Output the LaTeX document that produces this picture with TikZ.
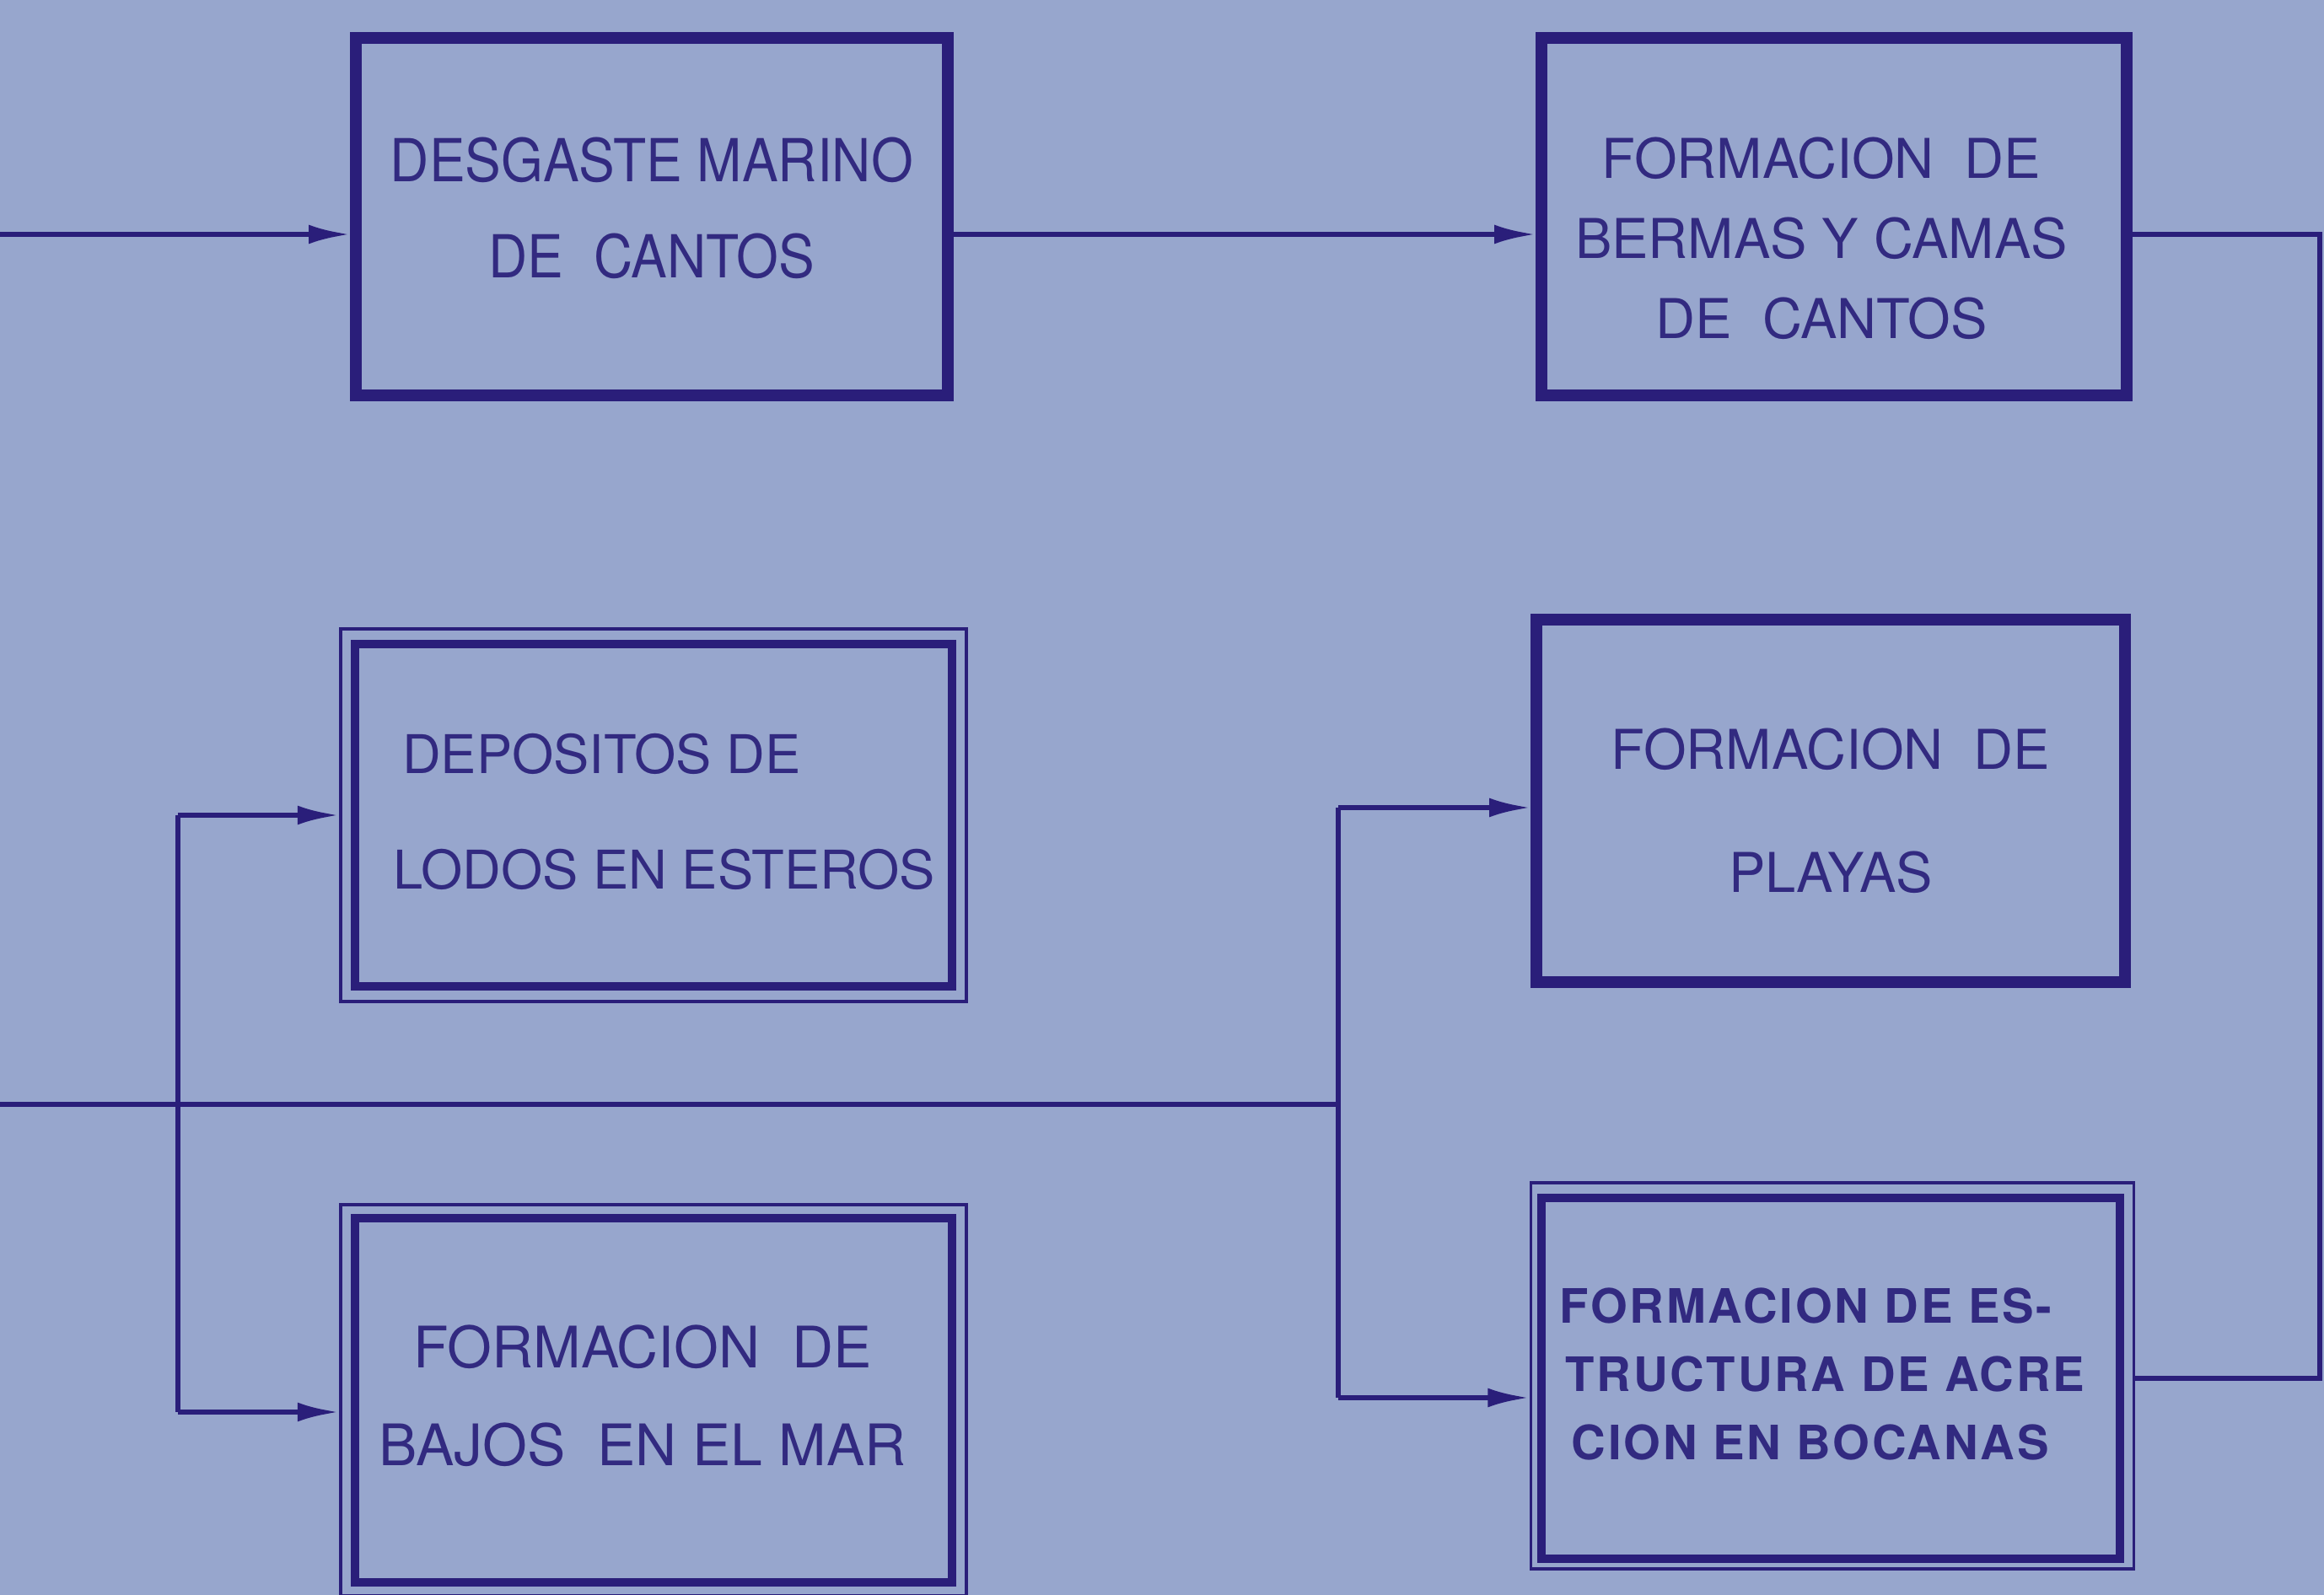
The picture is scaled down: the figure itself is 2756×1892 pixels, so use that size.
\documentclass[tikz,border=0pt]{standalone}
\usepackage{fontspec}
\setmainfont{TeX Gyre Heros}
\newfontfamily\narrowfont[FakeStretch=0.91]{TeX Gyre Heros}
\newfontfamily\widefont[LetterSpace=5]{TeX Gyre Heros}
\usetikzlibrary{arrows.meta}
\definecolor{paper}{RGB}{151,166,205}
\definecolor{ink}{RGB}{42,30,122}
\definecolor{textink}{RGB}{50,42,128}
\begin{document}
\begin{tikzpicture}[x=0.01cm,y=-0.01cm,
  thickbox/.style={draw=ink,line width=4pt,inner sep=0pt},
  innerbox/.style={draw=ink,line width=2.8pt,inner sep=0pt},
  thinbox/.style={draw=ink,line width=1pt,inner sep=0pt},
  label/.style={text=textink,inner sep=0pt},
  conn/.style={draw=ink,line width=1.7pt},
  arr/.style={conn,-{Latex[length=14pt,width=6.5pt]}}]
\fill[paper] (0,0) rectangle (2756,1892);
\useasboundingbox (0,0) rectangle (2756,1892);
% boxes
\node[thickbox,minimum width=7.01cm,minimum height=4.24cm] (b1) at (773,257) {};
\node[thickbox,minimum width=6.93cm,minimum height=4.24cm] (b2) at (2175,257) {};
\node[thinbox,minimum width=7.42cm,minimum height=4.42cm] (b3o) at (775,967) {};
\node[innerbox,minimum width=7.08cm,minimum height=4.06cm] (b3) at (775,967) {};
\node[thickbox,minimum width=6.97cm,minimum height=4.30cm] (b4) at (2171,950) {};
\node[thinbox,minimum width=7.42cm,minimum height=4.64cm] (b5o) at (775,1661) {};
\node[innerbox,minimum width=7.08cm,minimum height=4.31cm] (b5) at (775,1661) {};
\node[thinbox,minimum width=7.15cm,minimum height=4.58cm] (b6o) at (2173,1632) {};
\node[innerbox,minimum width=6.86cm,minimum height=4.27cm] (b6) at (2171,1635) {};
% texts
\node[label,align=center,font={\narrowfont\fontsize{20}{32.4}\selectfont}] (t1) at (773,247) {DESGASTE MARINO\\DE\ \ CANTOS};
\node[label,align=center,font={\fontsize{18.5}{27}\selectfont}] (t2) at (2160,283) {FORMACION\ \ DE\\BERMAS Y CAMAS\\DE\ \ CANTOS};
\node[label,align=left,anchor=west,font={\fontsize{18}{39}\selectfont}] (t3) at (466,963) {\hspace{3pt}DEPOSITOS DE\\LODOS EN ESTEROS};
\node[label,align=center,font={\fontsize{18.5}{41.5}\selectfont}] (t4) at (2171,962) {FORMACION\ \ DE\\PLAYAS};
\node[label,align=center,font={\fontsize{19.3}{33}\selectfont}] (t5) at (762,1656) {FORMACION\ \ DE\\BAJOS\ \ EN EL MAR};
\node[label,align=left,anchor=west,font={\widefont\bfseries\fontsize{16}{23}\selectfont}] (t6) at (1849,1630) {FORMACION DE ES-\\\hspace{2pt}TRUCTURA DE ACRE\\\hspace{4pt}CION EN BOCANAS};
% connector points
\coordinate (c0) at (0,278);
\coordinate (rR) at (2751,278);
\coordinate (rB) at (2751,1635);
\coordinate (m0) at (0,1310);
\coordinate (mJ) at (1587,1310);
\coordinate (lT) at (211,967);
\coordinate (lB) at (211,1675);
\coordinate (rT) at (1587,958);
\coordinate (rD) at (1587,1658);
% connectors
\draw[arr] (c0) -- (c0 -| b1.west);
\draw[arr] (c0 -| b1.east) -- (c0 -| b2.west);
\draw[conn] (c0 -| b2.east) -- (rR) -- (rB) -- (rB -| b6o.east);
\draw[conn] (m0) -- (mJ);
\draw[arr] (lT) -- (lT -| b3o.west);
\draw[conn] (lT) -- (lB);
\draw[arr] (lB) -- (lB -| b5o.west);
\draw[arr] (rT) -- (rT -| b4.west);
\draw[conn] (rT) -- (rD);
\draw[arr] (rD) -- (rD -| b6o.west);
\end{tikzpicture}
\end{document}
